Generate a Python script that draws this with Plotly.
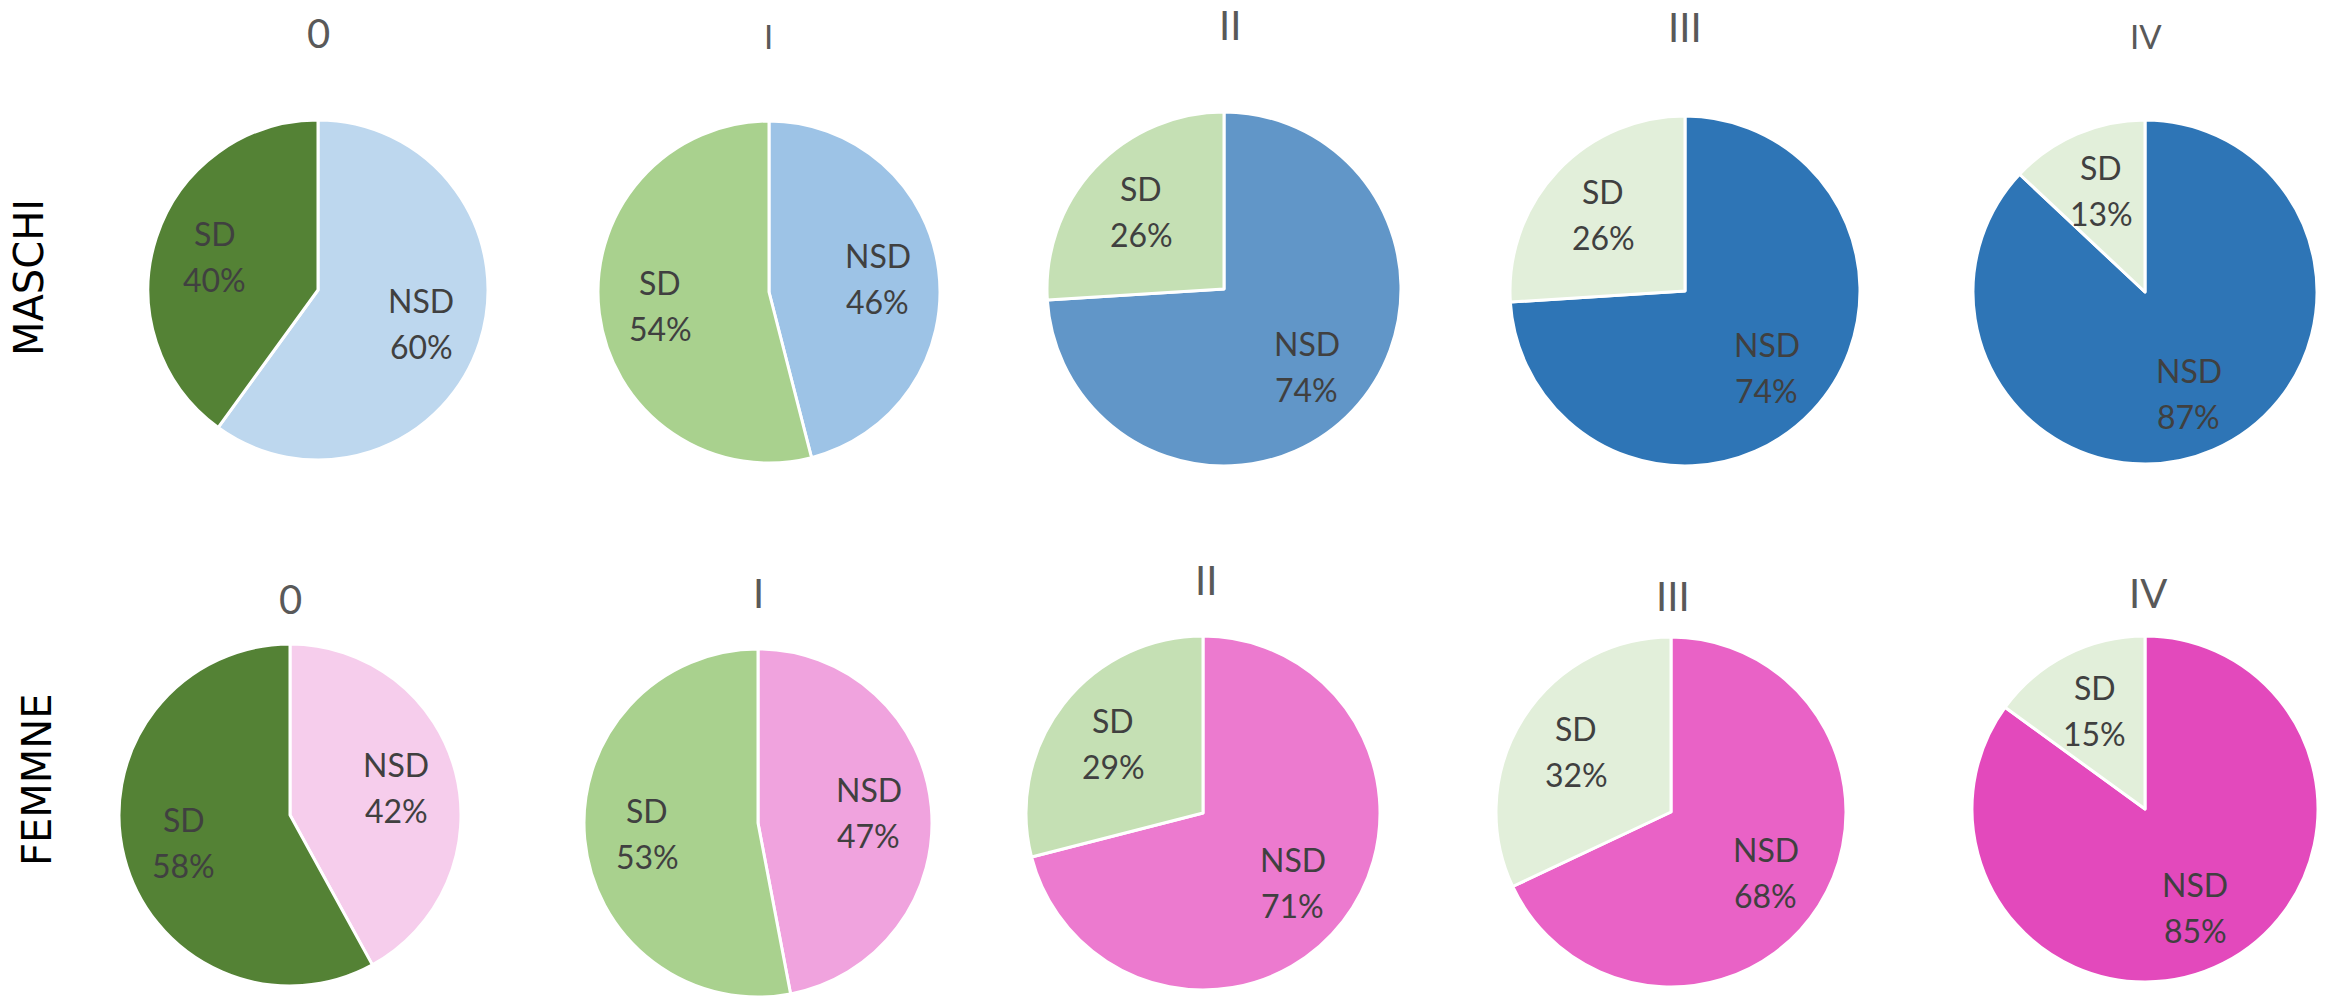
import math
import plotly.graph_objects as go

# Stage categories and slice labels
stages = ["0", "I", "II", "III", "IV"]
slice_labels = ["NSD", "SD"]

# Percentages per stage (NSD, SD)
maschi_nsd = [60, 46, 74, 74, 87]
maschi_sd = [40, 54, 26, 26, 13]
femmine_nsd = [42, 47, 71, 68, 85]
femmine_sd = [58, 53, 29, 32, 15]

row_titles = ["MASCHI", "FEMMNE"]

# Slice colours per stage
sd_colors = ["#548235", "#A9D18E", "#C5E0B4", "#E2EFDA", "#E2EFDA"]
maschi_nsd_colors = ["#BDD7EE", "#9DC3E6", "#6196C8", "#2E75B6", "#2E75B6"]
femmine_nsd_colors = ["#F6CDEC", "#F0A3DE", "#EC7ACF", "#E962C6", "#E349BC"]

W, H = 2330, 998

# Pie centres and radii in pixels (cx, cy, r)
top_geom = [(318, 290, 170), (769, 292, 171), (1224, 289, 177), (1685, 291, 175), (2145, 292, 172)]
bot_geom = [(290, 815, 171), (758, 823, 174), (1203, 813, 177), (1671, 812, 175), (2145, 809, 173)]

# Stage title positions (x, y, font size)
top_titles = [(318, 33, 40), (768, 36, 33), (1230, 25, 40), (1685, 27, 40), (2146, 36, 33)]
bot_titles = [(290, 599, 40), (758, 593, 40), (1206, 580, 40), (1673, 596, 40), (2148, 593, 40)]

LABEL_FONT = dict(family="Lato", size=32, color="#404040")
LABEL_RADIUS = 0.64   # label distance from centre, as a fraction of the radius
LINE_GAP = 23         # half the distance between the two label lines, px


def domain(cx, cy, r):
    y0 = max(0.0, 1 - (cy + r) / H)
    y1 = min(1.0, 1 - (cy - r) / H)
    return dict(x=[(cx - r) / W, (cx + r) / W], y=[y0, y1])


def slice_label_annotations(values, cx, cy, r):
    """Two-line labels (name / percent) placed on each slice's bisector."""
    out = []
    total = sum(values)
    start = 0.0
    for name, v in zip(slice_labels, values):
        sweep = 360.0 * v / total
        mid = math.radians(start + sweep / 2)   # clockwise from 12 o'clock
        start += sweep
        x = cx + LABEL_RADIUS * r * math.sin(mid)
        y = cy - LABEL_RADIUS * r * math.cos(mid)
        pct = f"{round(100 * v / total)}%"
        for txt, dy in ((name, -LINE_GAP), (pct, LINE_GAP)):
            out.append(dict(
                text=txt, x=x / W, y=1 - (y + dy) / H, xref="paper", yref="paper",
                xanchor="center", yanchor="middle", showarrow=False, font=LABEL_FONT,
            ))
    return out


fig = go.Figure()
annotations = []

rows = [
    (maschi_nsd, maschi_sd, maschi_nsd_colors, top_geom),
    (femmine_nsd, femmine_sd, femmine_nsd_colors, bot_geom),
]

for nsd, sd, nsd_cols, geom in rows:
    for i in range(len(stages)):
        vals = [nsd[i], sd[i]]
        fig.add_trace(go.Pie(
            labels=slice_labels,
            values=vals,
            sort=False,
            direction="clockwise",
            rotation=0,
            marker=dict(colors=[nsd_cols[i], sd_colors[i]], line=dict(color="white", width=3)),
            textinfo="none",
            hoverinfo="label+percent",
            showlegend=False,
            domain=domain(*geom[i]),
        ))
        annotations += slice_label_annotations(vals, *geom[i])

for titles in (top_titles, bot_titles):
    for name, (x, y, s) in zip(stages, titles):
        annotations.append(dict(
            text=name, x=x / W, y=1 - y / H, xref="paper", yref="paper",
            xanchor="center", yanchor="middle", showarrow=False,
            font=dict(family="Lato", size=s, color="#595959"),
        ))

for name, (x, y) in zip(row_titles, [(29, 278), (37, 780)]):
    annotations.append(dict(
        text=name, x=x / W, y=1 - y / H, xref="paper", yref="paper",
        xanchor="center", yanchor="middle", showarrow=False, textangle=-90,
        font=dict(family="DejaVu Sans", size=40, color="#000000"),
    ))

fig.update_layout(
    width=W, height=H,
    margin=dict(l=0, r=0, t=0, b=0),
    paper_bgcolor="white",
    plot_bgcolor="white",
    annotations=annotations,
)

fig.write_html("out.html")
